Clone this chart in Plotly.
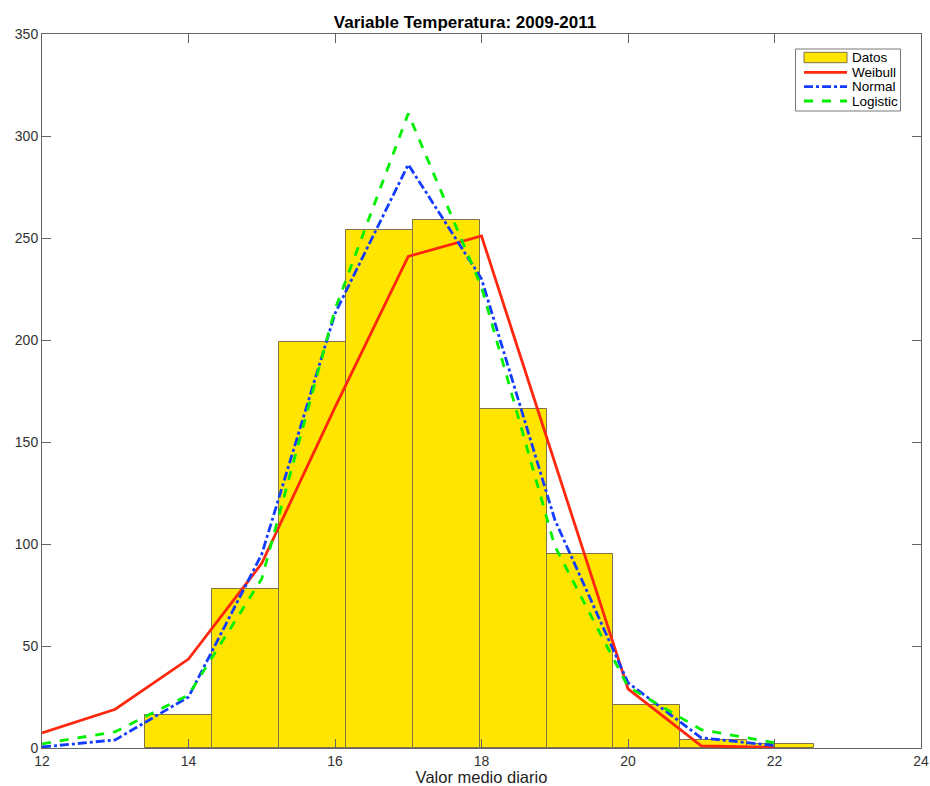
import plotly.graph_objects as go

# Histogram data
bin_lo = 13.41
bin_hi = 22.54
counts = [16, 78, 199, 254, 259, 166, 95, 21, 4, 2]

# Fitted curves evaluated at integer x
x_fit = [12, 13, 14, 15, 16, 17, 18, 19, 20, 21, 22]
weibull = [7.4, 19, 43.6, 90.5, 167, 241, 251, 140, 29, 1, 0.3]
normal = [0.5, 4, 25, 95, 213, 286, 230, 112, 32, 5, 1.2]
logistic = [2, 8, 26, 83, 215, 311, 226, 99, 30, 9, 2.6]

series_names = ["Datos", "Weibull", "Normal", "Logistic"]

x_ticks = [12, 14, 16, 18, 20, 22, 24]
y_ticks = [0, 50, 100, 150, 200, 250, 300, 350]

BAR_FILL = "rgb(255,229,0)"
BAR_EDGE = "rgb(125,115,70)"
C_W = "rgb(255,40,15)"
C_N = "rgb(20,60,255)"
C_L = "rgb(0,240,0)"
FONT = "Liberation Sans, Arial, Helvetica"

nb = len(counts)
w = (bin_hi - bin_lo) / nb
centers = [bin_lo + w * (i + 0.5) for i in range(nb)]

fig = go.Figure()
fig.add_trace(go.Bar(x=centers, y=counts, width=[w] * nb, name=series_names[0],
                     marker=dict(color=BAR_FILL, line=dict(color=BAR_EDGE, width=1))))
fig.add_trace(go.Scatter(x=x_fit, y=weibull, mode="lines", name=series_names[1],
                         line=dict(color=C_W, width=2.8)))
fig.add_trace(go.Scatter(x=x_fit, y=normal, mode="lines", name=series_names[2],
                         line=dict(color=C_N, width=2.8, dash="dashdot")))
fig.add_trace(go.Scatter(x=x_fit, y=logistic, mode="lines", name=series_names[3],
                         line=dict(color=C_L, width=2.8, dash="dash")))

# Plot area geometry in pixels (for custom MATLAB-style legend)
W_FIG, H_FIG = 930, 786
ML, MR, MT, MB = 42, 9, 34, 38
PW = W_FIG - ML - MR
PH = H_FIG - MT - MB

def px_x(px):
    return (px - ML) / PW

def px_y(py):
    return (H_FIG - MB - py) / PH

shapes = []
annotations = []
# legend box
shapes.append(dict(type="rect", xref="paper", yref="paper",
                   x0=px_x(795.5), x1=px_x(900.5), y0=px_y(111), y1=px_y(49),
                   line=dict(color="rgb(120,120,120)", width=1), fillcolor="white", layer="above"))
row_y = [57.5, 72.3, 86.7, 101]
sx0, sx1 = px_x(804), px_x(847)
# Datos patch
shapes.append(dict(type="rect", xref="paper", yref="paper",
                   x0=sx0, x1=sx1, y0=px_y(62.7), y1=px_y(52.3),
                   line=dict(color=BAR_EDGE, width=1), fillcolor=BAR_FILL, layer="above"))
for ry, col, dsh in zip(row_y[1:], [C_W, C_N, C_L], ["solid", "dashdot", "dash"]):
    shapes.append(dict(type="line", xref="paper", yref="paper",
                       x0=sx0, x1=sx1, y0=px_y(ry), y1=px_y(ry),
                       line=dict(color=col, width=2.8, dash=dsh), layer="above"))
for ry, nm in zip(row_y, series_names):
    annotations.append(dict(xref="paper", yref="paper", x=px_x(850), y=px_y(ry),
                            text=nm, showarrow=False, xanchor="left", yanchor="middle",
                            font=dict(family=FONT, size=13.5, color="black")))

axis_common = dict(showgrid=False, zeroline=False, showline=True, mirror="ticks",
                   linecolor="rgb(100,100,100)", linewidth=1, ticks="inside",
                   ticklen=9, tickcolor="rgb(100,100,100)", automargin=False,
                   tickfont=dict(family=FONT, size=14, color="rgb(50,50,50)"))

fig.update_layout(
    width=W_FIG, height=H_FIG,
    margin=dict(l=ML, r=MR, t=MT, b=MB),
    paper_bgcolor="white", plot_bgcolor="white",
    bargap=0,
    showlegend=False,
    title=dict(text="<b>Variable Temperatura: 2009-2011</b>", x=0.5, xanchor="center",
               y=1 - 22.5 / H_FIG, yanchor="middle",
               font=dict(family=FONT, size=17, color="black")),
    xaxis=dict(range=[12, 24], tickvals=x_ticks,
               title=dict(text="Valor medio diario", standoff=1,
                          font=dict(family=FONT, size=16.5, color="rgb(30,30,30)")),
               **axis_common),
    yaxis=dict(range=[0, 350], tickvals=y_ticks, **axis_common),
    shapes=shapes,
    annotations=annotations,
)

fig.write_html("out.html")
